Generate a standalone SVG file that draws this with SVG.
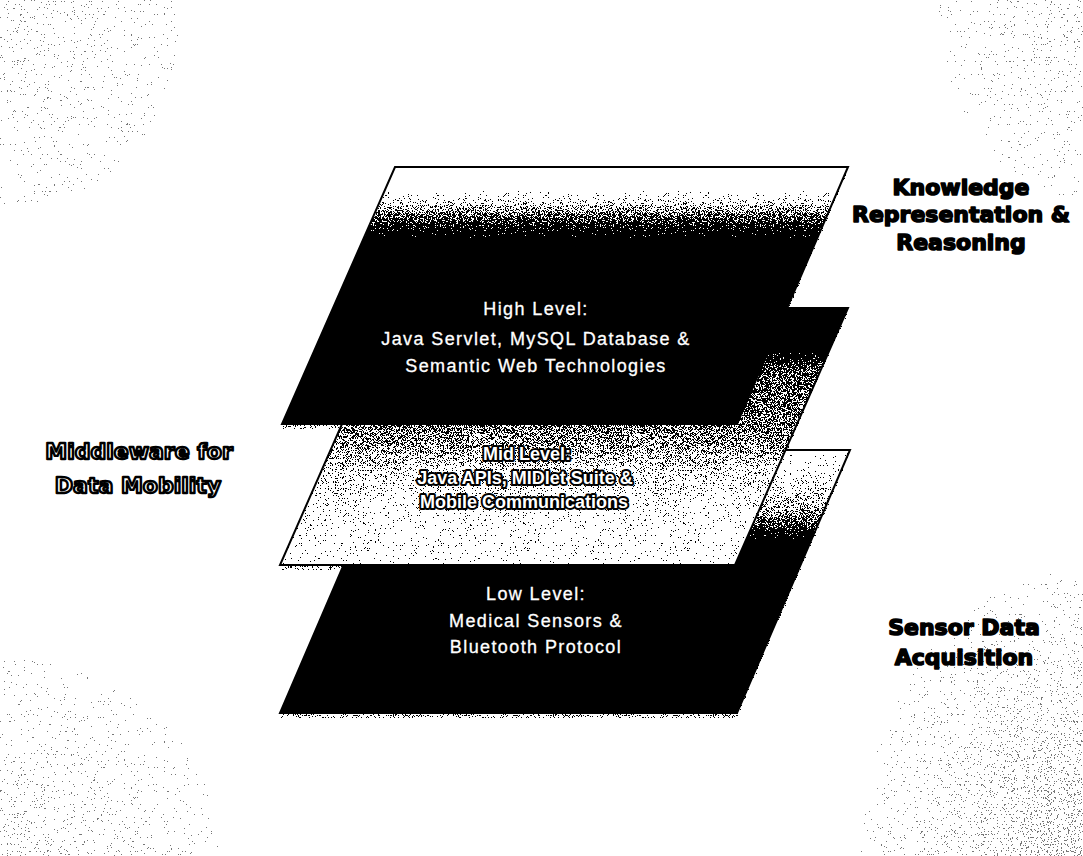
<svg xmlns="http://www.w3.org/2000/svg" width="1083" height="856" viewBox="0 0 1083 856">
  <style>
    .slab-base { fill: #ffffff; stroke: #000000; stroke-width: 2; stroke-linejoin: miter; }
    .slab-tone { filter: url(#dither); }
    .shade { fill: #000000; fill-opacity: 0.3; filter: url(#dither); }
    .layer-text { font-family: "Liberation Sans", Arial, sans-serif; font-size: 18px; letter-spacing: 1.4px; fill: #ffffff; stroke: #ffffff; stroke-width: 0.3; text-anchor: middle; }
    .mid-text { font-family: "Liberation Sans", Arial, sans-serif; font-size: 18px; font-weight: bold; fill: #ffffff; stroke: #000000; stroke-width: 4; stroke-linejoin: round; paint-order: stroke; text-anchor: middle; }
    .side-dark { font-family: "DejaVu Sans", "Liberation Sans", sans-serif; font-size: 22px; font-weight: bold; fill: #000000; stroke: #000000; stroke-width: 1.6; stroke-linejoin: round; text-anchor: middle; }
    .side-outline { font-family: "DejaVu Sans", "Liberation Sans", sans-serif; font-size: 22px; font-weight: bold; fill: #ffffff; stroke: #000000; stroke-width: 2.4; stroke-linejoin: round; text-anchor: middle; }
  </style>
  <defs>
    <!-- turns a black fill's opacity into a 1-bit dot pattern of matching density -->
    <filter id="dither" filterUnits="userSpaceOnUse" x="0" y="0" width="1083" height="856" color-interpolation-filters="sRGB">
      <feTurbulence type="fractalNoise" baseFrequency="1.6" numOctaves="1" seed="4" result="noise"/>
      <feColorMatrix in="noise" type="matrix" values="0 0 0 0 0  0 0 0 0 0  0 0 0 0 0  2.2 0 0 0 -0.6" result="n"/>
      <feComposite in="n" in2="SourceAlpha" operator="arithmetic" k1="0" k2="0.98" k3="1" k4="-0.49" result="sum"/>
      <feComponentTransfer in="sum" result="mask">
        <feFuncA type="discrete" tableValues="0 1"/>
      </feComponentTransfer>
      <feFlood flood-color="#000000"/>
      <feComposite in2="mask" operator="in"/>
    </filter>
    <!-- sparse grey specks for the paper grain near the edges -->
    <filter id="speckle" filterUnits="userSpaceOnUse" x="0" y="0" width="1083" height="856" color-interpolation-filters="sRGB">
      <feTurbulence type="fractalNoise" baseFrequency="1.7" numOctaves="1" seed="11" result="noise"/>
      <feColorMatrix in="noise" type="matrix" values="0 0 0 0 0  0 0 0 0 0  0 0 0 0 0  2.2 0 0 0 -0.6" result="n"/>
      <feComposite in="n" in2="SourceAlpha" operator="arithmetic" k1="0" k2="0.98" k3="1" k4="-0.49" result="sum"/>
      <feComponentTransfer in="sum" result="mask">
        <feFuncA type="discrete" tableValues="0 1"/>
      </feComponentTransfer>
      <feFlood flood-color="#777777"/>
      <feComposite in2="mask" operator="in"/>
    </filter>

    <!-- darkness ramps for each slab (opacity = dot density) -->
    <linearGradient id="toneHigh" x1="0" y1="0" x2="0" y2="1">
      <stop offset="0" stop-color="#000" stop-opacity="0"/>
      <stop offset="0.09" stop-color="#000" stop-opacity="0"/>
      <stop offset="0.12" stop-color="#000" stop-opacity="0.15"/>
      <stop offset="0.18" stop-color="#000" stop-opacity="0.5"/>
      <stop offset="0.24" stop-color="#000" stop-opacity="0.85"/>
      <stop offset="0.28" stop-color="#000" stop-opacity="1"/>
      <stop offset="1" stop-color="#000" stop-opacity="1"/>
    </linearGradient>
    <linearGradient id="toneMid" x1="0" y1="0" x2="0" y2="1">
      <stop offset="0" stop-color="#000" stop-opacity="1"/>
      <stop offset="0.17" stop-color="#000" stop-opacity="1"/>
      <stop offset="0.24" stop-color="#000" stop-opacity="0.6"/>
      <stop offset="0.46" stop-color="#000" stop-opacity="0.52"/>
      <stop offset="0.55" stop-color="#000" stop-opacity="0.4"/>
      <stop offset="0.65" stop-color="#000" stop-opacity="0.25"/>
      <stop offset="0.75" stop-color="#000" stop-opacity="0.15"/>
      <stop offset="0.9" stop-color="#000" stop-opacity="0.08"/>
      <stop offset="1" stop-color="#000" stop-opacity="0.06"/>
    </linearGradient>
    <linearGradient id="toneLow" x1="0" y1="0" x2="0" y2="1">
      <stop offset="0" stop-color="#000" stop-opacity="0"/>
      <stop offset="0.05" stop-color="#000" stop-opacity="0.06"/>
      <stop offset="0.15" stop-color="#000" stop-opacity="0.22"/>
      <stop offset="0.24" stop-color="#000" stop-opacity="0.45"/>
      <stop offset="0.3" stop-color="#000" stop-opacity="0.72"/>
      <stop offset="0.34" stop-color="#000" stop-opacity="1"/>
      <stop offset="1" stop-color="#000" stop-opacity="1"/>
    </linearGradient>

    <!-- grain density near the page corners -->
    <radialGradient id="grainTL" cx="0.1" cy="0.1" r="0.9">
      <stop offset="0" stop-color="#000" stop-opacity="0.08"/>
      <stop offset="1" stop-color="#000" stop-opacity="0"/>
    </radialGradient>
    <radialGradient id="grainTR" cx="1" cy="0" r="1">
      <stop offset="0" stop-color="#000" stop-opacity="0.1"/>
      <stop offset="1" stop-color="#000" stop-opacity="0"/>
    </radialGradient>
    <radialGradient id="grainBL" cx="0" cy="1" r="1">
      <stop offset="0" stop-color="#000" stop-opacity="0.12"/>
      <stop offset="1" stop-color="#000" stop-opacity="0"/>
    </radialGradient>
    <radialGradient id="grainBR" cx="1" cy="1" r="1">
      <stop offset="0" stop-color="#000" stop-opacity="0.27"/>
      <stop offset="1" stop-color="#000" stop-opacity="0"/>
    </radialGradient>
  </defs>

  <rect x="0" y="0" width="1083" height="856" fill="#ffffff"/>

  <!-- paper grain -->
  <g id="grain" filter="url(#speckle)">
    <rect x="0" y="0" width="200" height="230" fill="url(#grainTL)"/>
    <rect x="923" y="0" width="160" height="220" fill="url(#grainTR)"/>
    <rect x="0" y="640" width="240" height="216" fill="url(#grainBL)"/>
    <rect x="853" y="560" width="230" height="296" fill="url(#grainBR)"/>
  </g>

  <!-- low level slab -->
  <g id="node-low">
    <polygon class="shade" points="393,454 850,454 737,718 280,718"/>
    <polygon class="slab-base" points="393,450 850,450 737,713 280,713"/>
    <polygon class="slab-tone" fill="url(#toneLow)" points="393,450 850,450 737,713 280,713"/>
    <text class="layer-text" x="536" y="600">Low Level:</text>
    <text class="layer-text" x="536" y="627">Medical Sensors &amp;</text>
    <text class="layer-text" x="536" y="653">Bluetooth Protocol</text>
  </g>

  <!-- mid level slab -->
  <g id="node-mid">
    <polygon class="shade" points="393,312 848,312 735,570 280,570"/>
    <polygon class="slab-base" points="393,308 848,308 735,565 280,565"/>
    <polygon class="slab-tone" fill="url(#toneMid)" points="393,308 848,308 735,565 280,565"/>
    <text class="mid-text" x="527" y="460">Mid Level:</text>
    <text class="mid-text" x="525" y="484">Java APIs, MIDlet Suite &amp;</text>
    <text class="mid-text" x="524" y="508">Mobile Communications</text>
  </g>

  <!-- high level slab -->
  <g id="node-high">
    <polygon class="shade" points="395,171 848,171 737,429 282,429"/>
    <polygon class="slab-base" points="395,167 848,167 737,424 282,424"/>
    <polygon class="slab-tone" fill="url(#toneHigh)" points="395,167 848,167 737,424 282,424"/>
    <text class="layer-text" x="536" y="315">High Level:</text>
    <text class="layer-text" x="536" y="345">Java Servlet, MySQL Database &amp;</text>
    <text class="layer-text" x="536" y="372">Semantic Web Technologies</text>
  </g>

  <!-- side captions -->
  <g id="label-knowledge">
    <text class="side-dark" x="961" y="195">Knowledge</text>
    <text class="side-dark" x="961" y="222">Representation &amp;</text>
    <text class="side-dark" x="961" y="250">Reasoning</text>
  </g>
  <g id="label-middleware">
    <text class="side-outline" x="139" y="459">Middleware for</text>
    <text class="side-outline" x="138" y="493">Data Mobility</text>
  </g>
  <g id="label-sensor">
    <text class="side-dark" x="964" y="635">Sensor Data</text>
    <text class="side-dark" x="964" y="665">Acquisition</text>
  </g>
</svg>
